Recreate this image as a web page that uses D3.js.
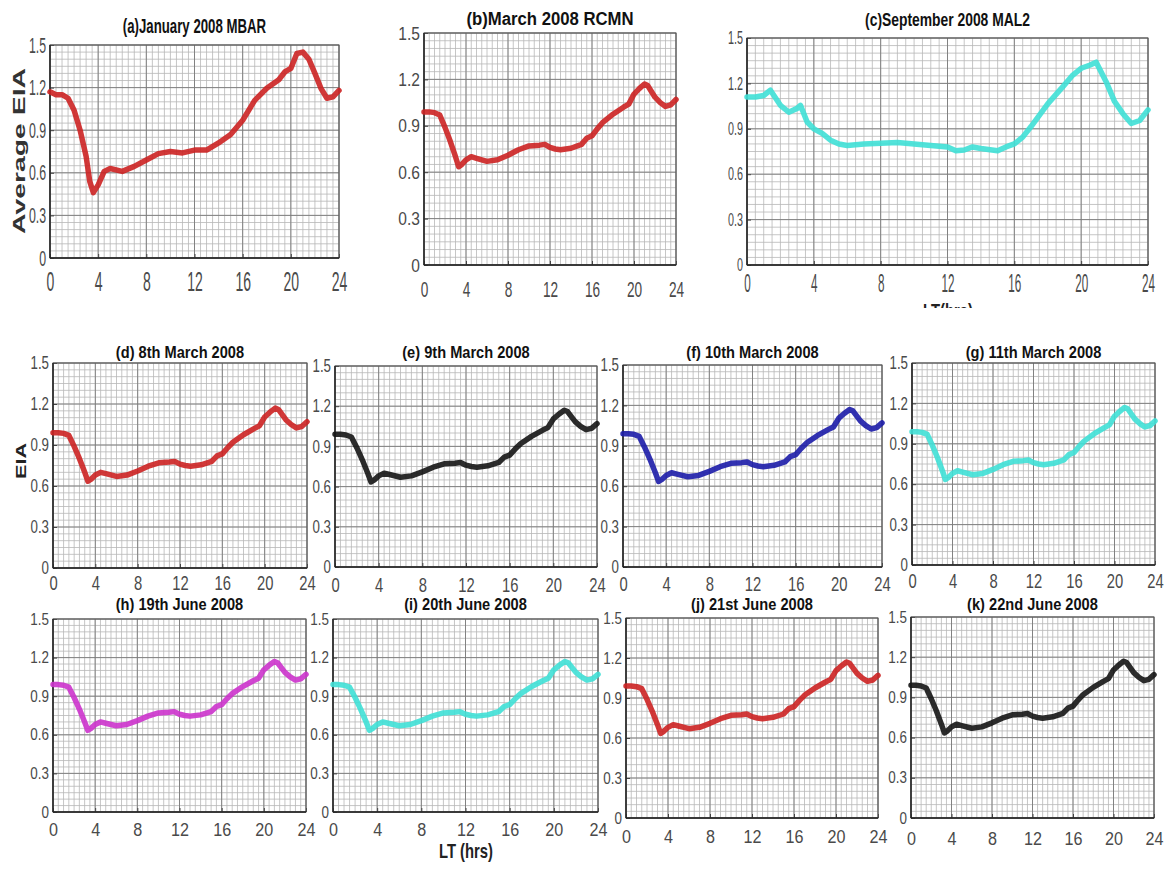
<!DOCTYPE html>
<html>
<head>
<meta charset="utf-8">
<script src="https://cdn.jsdelivr.net/npm/d3@7"></script>
<style>
  body { margin: 0; background: #fff; }
  text { font-family: "Liberation Sans", Arial, sans-serif; }
</style>
</head>
<body>
<div id="chart"></div>
<script>
// ---- data ----
const xTicks = [0, 4, 8, 12, 16, 20, 24];
const yTicks = [0, 0.3, 0.6, 0.9, 1.2, 1.5];

// (a) January 2008 MBAR
const hoursJan = [0, 0.5, 1, 1.5, 2, 2.5, 3, 3.3, 3.6, 4, 4.5, 5, 6, 7, 8, 9, 10, 11, 12, 13, 14, 15, 16, 17, 18, 19, 19.5, 20, 20.5, 21, 21.5, 22, 22.5, 23, 23.5, 24];
const eiaJan = [1.17, 1.15, 1.15, 1.125, 1.04, 0.90, 0.715, 0.54, 0.46, 0.515, 0.61, 0.63, 0.61, 0.645, 0.69, 0.735, 0.75, 0.74, 0.76, 0.76, 0.81, 0.87, 0.97, 1.11, 1.195, 1.255, 1.31, 1.335, 1.44, 1.45, 1.40, 1.30, 1.195, 1.125, 1.135, 1.18];

// (c) September 2008 MAL2
const hoursSep = [0, 0.5, 1, 1.4, 2, 2.5, 3, 3.2, 3.6, 4, 4.5, 5, 5.5, 6, 7, 8, 9, 10, 11, 12, 12.5, 13, 13.5, 14, 15, 15.5, 16, 16.5, 17, 18, 19, 19.5, 20, 20.5, 20.9, 21.5, 22, 22.5, 23, 23.5, 24];
const eiaSep = [1.11, 1.11, 1.12, 1.155, 1.055, 1.01, 1.035, 1.055, 0.945, 0.90, 0.87, 0.825, 0.80, 0.79, 0.80, 0.805, 0.81, 0.80, 0.79, 0.78, 0.755, 0.76, 0.78, 0.77, 0.755, 0.78, 0.80, 0.845, 0.915, 1.065, 1.19, 1.255, 1.30, 1.32, 1.34, 1.21, 1.08, 1.00, 0.935, 0.955, 1.025];

// (b) March 2008 RCMN and the daily panels (d)-(k) share this curve
const hoursMar = [0, 0.5, 1, 1.5, 2, 2.5, 3, 3.3, 3.6, 4, 4.5, 5, 6, 7, 8, 9, 10, 11, 11.5, 12, 12.5, 13, 14, 15, 15.5, 16, 16.5, 17, 18, 19, 19.5, 20, 20.5, 21, 21.3, 22, 22.5, 23, 23.5, 24];
const eiaMar = [0.99, 0.99, 0.985, 0.97, 0.89, 0.80, 0.70, 0.635, 0.65, 0.68, 0.70, 0.69, 0.67, 0.68, 0.71, 0.745, 0.77, 0.775, 0.78, 0.76, 0.75, 0.745, 0.755, 0.78, 0.82, 0.835, 0.88, 0.92, 0.975, 1.02, 1.04, 1.105, 1.14, 1.17, 1.16, 1.085, 1.05, 1.025, 1.035, 1.07];

const titles = ["(a)January 2008 MBAR", "(b)March 2008 RCMN", "(c)September 2008 MAL2",
  "(d) 8th March 2008", "(e) 9th March 2008", "(f) 10th March 2008", "(g) 11th March 2008",
  "(h) 19th June 2008", "(i) 20th June 2008", "(j) 21st June 2008", "(k) 22nd June 2008"];
const seriesFor = ["jan", "mar", "sep", "mar", "mar", "mar", "mar", "mar", "mar", "mar", "mar"];

// ---- layout ----
const red = "#cc2222", cyan = "#3fe0d6", black = "#151515", blue = "#1c1ca8", magenta = "#cc33cc";
// l,r,t,b plot box; xfs/xsx/xpad x tick labels; yfs/ysx y tick labels; tfs/tsx/tb title
const row2 = {xfs: 20, xsx: 0.74, yfs: 18, ysx: 0.74, tfs: 17, tsx: 0.86, tb: 358};
const row3 = {xfs: 19, xsx: 0.85, yfs: 16, ysx: 0.84, tfs: 17, tsx: 0.86, tb: 610};
const panels = [
  {l: 50,  r: 339,  t: 45,  b: 258, xfs: 28, xsx: 0.5,  xpad: 13, yfs: 22, ysx: 0.56, tfs: 21, tsx: 0.63, tb: 33, color: red},
  {l: 424, r: 676,  t: 33,  b: 265, xfs: 22, xsx: 0.62, xpad: 16, yfs: 19, ysx: 0.82, tfs: 19, tsx: 0.88, tb: 25, color: red},
  {l: 747, r: 1148, t: 38,  b: 265, xfs: 26, xsx: 0.45, xpad: 9,  yfs: 18, ysx: 0.6,  tfs: 19, tsx: 0.73, tb: 26, color: cyan},
  Object.assign({l: 53,  r: 307,  t: 363, b: 568, xpad: 8,  color: red}, row2),
  Object.assign({l: 335, r: 597,  t: 366, b: 567, xpad: 11, color: black}, row2),
  Object.assign({l: 623, r: 882,  t: 365, b: 567, xpad: 10, color: blue}, row2),
  Object.assign({l: 912, r: 1155, t: 363, b: 565, xpad: 9,  color: cyan}, row2),
  Object.assign({l: 53,  r: 306,  t: 619, b: 812, xpad: 11, color: magenta}, row3),
  Object.assign({l: 333, r: 598,  t: 619, b: 812, xpad: 11, color: cyan}, row3),
  Object.assign({l: 626, r: 878,  t: 618, b: 818, xpad: 12, color: red}, row3),
  Object.assign({l: 911, r: 1154, t: 617, b: 818, xpad: 14, color: black}, row3)
];

const series = {
  jan: hoursJan.map((h, i) => ({h: h, v: eiaJan[i]})),
  sep: hoursSep.map((h, i) => ({h: h, v: eiaSep[i]})),
  mar: hoursMar.map((h, i) => ({h: h, v: eiaMar[i]}))
};

const W = 1166, H = 869;
const svg = d3.select("#chart").append("svg")
  .attr("width", W).attr("height", H);

const minorX = d3.range(0, 24.01, 0.5);
const minorY = d3.range(0, 1.501, 0.05);

// narrow text: squeeze horizontally around its x position
function squeezed(sel, x, y, sx) {
  return sel.append("text")
    .attr("x", x / sx).attr("y", y)
    .attr("transform", `scale(${sx},1)`);
}

panels.forEach((p, i) => {
  const x = d3.scaleLinear().domain([0, 24]).range([p.l, p.r]);
  const y = d3.scaleLinear().domain([0, 1.5]).range([p.b, p.t]);
  const g = svg.append("g");

  // minor grid
  g.selectAll(".gx").data(minorX).enter().append("line")
    .attr("x1", d => x(d)).attr("x2", d => x(d))
    .attr("y1", p.t).attr("y2", p.b)
    .attr("stroke", "#b8b8b8").attr("stroke-width", 0.8);
  g.selectAll(".gy").data(minorY).enter().append("line")
    .attr("x1", p.l).attr("x2", p.r)
    .attr("y1", d => y(d)).attr("y2", d => y(d))
    .attr("stroke", "#b8b8b8").attr("stroke-width", 0.8);
  // major grid
  g.selectAll(".mx").data(xTicks).enter().append("line")
    .attr("x1", d => x(d)).attr("x2", d => x(d))
    .attr("y1", p.t).attr("y2", p.b)
    .attr("stroke", "#7a7a7a").attr("stroke-width", 0.9);
  g.selectAll(".my").data(yTicks).enter().append("line")
    .attr("x1", p.l).attr("x2", p.r)
    .attr("y1", d => y(d)).attr("y2", d => y(d))
    .attr("stroke", "#7a7a7a").attr("stroke-width", 0.9);

  // axes (inner ticks, matlab style)
  const ax = g.append("g").attr("transform", `translate(0,${p.b})`)
    .call(d3.axisBottom(x).tickValues(xTicks).tickSize(-4).tickPadding(p.xpad).tickFormat(d3.format("d")));
  const ay = g.append("g").attr("transform", `translate(${p.l},0)`)
    .call(d3.axisLeft(y).tickValues(yTicks).tickSize(-4).tickPadding(4)
      .tickFormat(d => d === 0 ? "0" : d3.format(".1f")(d)));
  [ax, ay].forEach(a => {
    a.select(".domain").remove();
    a.selectAll("line").attr("stroke", "#444");
    a.selectAll("text").attr("fill", "#4a4a4a").attr("font-family", null);
  });
  ax.selectAll("text").attr("font-size", p.xfs)
    .attr("transform", `scale(${p.xsx},1)`);
  ay.selectAll("text").attr("font-size", p.yfs)
    .attr("transform", `scale(${p.ysx},1)`)
    .attr("x", -4 / p.ysx);

  // box
  g.append("rect").attr("x", p.l).attr("y", p.t)
    .attr("width", p.r - p.l).attr("height", p.b - p.t)
    .attr("fill", "none").attr("stroke", "#555").attr("stroke-width", 1);
  g.append("line").attr("x1", p.l).attr("x2", p.r).attr("y1", p.b).attr("y2", p.b)
    .attr("stroke", "#222").attr("stroke-width", 1.4);
  g.append("line").attr("x1", p.l).attr("x2", p.l).attr("y1", p.t).attr("y2", p.b)
    .attr("stroke", "#222").attr("stroke-width", 1.4);

  // curve
  const line = d3.line().x(d => x(d.h)).y(d => y(d.v)).curve(d3.curveLinear);
  g.append("path").datum(series[seriesFor[i]])
    .attr("d", line)
    .attr("fill", "none")
    .attr("stroke", p.color)
    .attr("stroke-width", 5.5)
    .attr("stroke-linejoin", "round")
    .attr("stroke-linecap", "round")
    .attr("opacity", 0.9);

  // title
  squeezed(g, (p.l + p.r) / 2, p.tb, p.tsx)
    .attr("text-anchor", "middle")
    .attr("font-size", p.tfs)
    .attr("font-weight", "bold")
    .attr("fill", "#111")
    .text(titles[i]);
});

// axis labels
svg.append("text")
  .attr("transform", "translate(25,151) rotate(-90)")
  .attr("text-anchor", "middle")
  .attr("font-size", 17).attr("font-weight", "bold")
  .attr("textLength", 166).attr("lengthAdjust", "spacingAndGlyphs")
  .attr("fill", "#333")
  .text("Average EIA");

svg.append("text")
  .attr("transform", "translate(26,461) rotate(-90)")
  .attr("text-anchor", "middle")
  .attr("font-size", 15).attr("font-weight", "bold")
  .attr("textLength", 36).attr("lengthAdjust", "spacingAndGlyphs")
  .attr("fill", "#222")
  .text("EIA");

squeezed(svg, 466, 858, 0.74)
  .attr("text-anchor", "middle")
  .attr("font-size", 20).attr("font-weight", "bold")
  .attr("fill", "#222")
  .text("LT (hrs)");

// half-cut label under panel (c)
svg.append("clipPath").attr("id", "cutc")
  .append("rect").attr("x", 880).attr("y", 299).attr("width", 140).attr("height", 9);
svg.append("g").attr("clip-path", "url(#cutc)")
  .call(s => squeezed(s, 948, 318, 0.74)
    .attr("text-anchor", "middle")
    .attr("font-size", 20).attr("font-weight", "bold")
    .attr("fill", "#222")
    .text("LT(hrs)"));
</script>
</body>
</html>
